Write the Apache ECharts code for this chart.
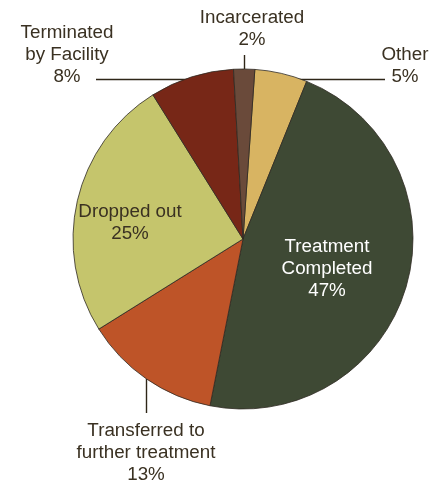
<!DOCTYPE html>
<html><head><meta charset="utf-8">
<script src="https://cdn.jsdelivr.net/npm/echarts@6/dist/echarts.min.js"></script>
<style>html,body{margin:0;padding:0;background:#fff}#c{width:443px;height:486px}</style>
</head><body><div id="c"></div>
<script>
const categories = ['Other', 'Treatment\nCompleted', 'Transferred to\nfurther treatment', 'Dropped out', 'Terminated\nby Facility', 'Incarcerated'];
const values = [5, 47, 13, 25, 8, 2];
const colors = ['#D8B462', '#3E4934', '#BE5428', '#C5C56C', '#772717', '#6A4A3A'];
const textColors = ['#3a3122', '#ffffff', '#3a3122', '#3a3122', '#3a3122', '#3a3122'];
// label anchor: [x, y, verticalAlign, leader direction ('h' or 'v'), leader end, leader line level]
const labelSpots = [
  [405, 88, 'bottom', 'h', 385, 79.5],
  [327, 269, 'middle', null, null, null],
  [146, 420, 'top', 'v', 413, null],
  [130, 223, 'middle', null, null, null],
  [67, 88, 'bottom', 'h', 96, 79.5],
  [252, 51, 'bottom', 'v', 55, null]
];

const chart = echarts.init(document.getElementById('c'), null, {renderer: 'canvas'});
chart.setOption({
  animation: false,
  series: [{
    type: 'pie',
    center: [243, 239],
    radius: 170,
    startAngle: 86,
    clockwise: true,
    avoidLabelOverlap: false,
    itemStyle: {borderColor: '#2e2a22', borderWidth: 0.8},
    label: {
      show: true,
      position: 'outside',
      fontFamily: 'Liberation Sans, Arial, sans-serif',
      fontSize: 18.8,
      lineHeight: 22,
      align: 'center',
      formatter: p => p.name + '\n' + p.value + '%'
    },
    labelLine: {show: true, length: 10, length2: 10, lineStyle: {color: '#2e2618', width: 1.4}},
    labelLayout: function (params) {
      const s = labelSpots[params.dataIndex];
      const out = {x: s[0], y: s[1], align: 'center', verticalAlign: s[2]};
      const pts = params.labelLinePoints;
      if (s[3] && pts) {
        let p0 = s[5] != null ? [pts[0][0], s[5]] : pts[0];
        if (s[3] === 'v') p0 = [Math.round(p0[0]) + 0.5, p0[1]];
        const end = s[3] === 'h' ? [s[4], p0[1]] : [p0[0], s[4]];
        out.labelLinePoints = [p0, p0, end];
      }
      return out;
    },
    data: categories.map((c, i) => ({
      name: c, value: values[i],
      itemStyle: {color: colors[i]},
      label: {color: textColors[i]},
      labelLine: {show: !!labelSpots[i][3]}
    }))
  }]
});
</script></body></html>
